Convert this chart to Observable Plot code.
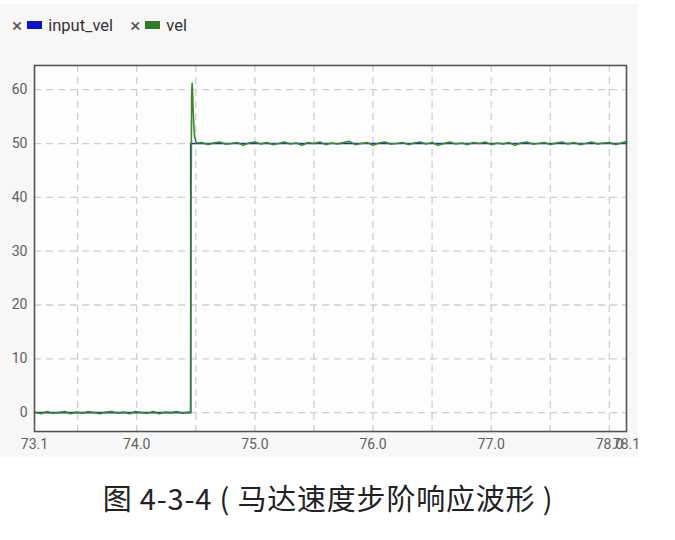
<!DOCTYPE html>
<html>
<head>
<meta charset="utf-8">
<script src="https://cdn.jsdelivr.net/npm/d3@7"></script>
<script src="https://cdn.jsdelivr.net/npm/@observablehq/plot@0.6"></script>
<style>
  html, body { margin: 0; padding: 0; background: #ffffff; width: 675px; height: 540px; overflow: hidden; }
  #panel { position: absolute; left: 0; top: 4px; width: 638px; height: 453px; background: #f7f7f7; }
  #legend { position: absolute; left: 0; top: 14px; height: 22px; font-family: Roboto, "Noto Sans", sans-serif; font-size: 16.5px; color: #333; display: flex; align-items: center; }
  .lx { color: #555; font-size: 19px; margin-right: 5px; }
  .sw { display: inline-block; width: 15px; height: 8px; margin-right: 6px; }
  .li { display: flex; align-items: center; }
  #chart { position: absolute; left: 0; top: 40px; }
  #caption { position: absolute; left: 0; width: 656px; top: 476px; text-align: center; font-family: "Noto Sans CJK SC", sans-serif; font-size: 29px; letter-spacing: 0.8px; color: #222; white-space: pre; }
</style>
</head>
<body>
<div id="panel"></div>
<div id="legend"></div>
<div id="chart"></div>
<div id="caption"></div>
<script>
// ---- data ----
const seriesNames = ["input_vel", "vel"];
const seriesColors = ["#1a35b0", "#3a8a2c"];
const legendColors = ["#0a14cc", "#2f7d2a"];
const captionText = "图 4-3-4 ( 马达速度步阶响应波形 )";

const xDomain = [73.135, 78.145];
const yDomain = [-3.5, 64.5];
const xTicks = [73.135, 74.0, 75.0, 76.0, 77.0, 78.0, 78.145];
const yTicks = [0, 10, 20, 30, 40, 50, 60];
const xGrid = [73.5, 74.0, 74.5, 75.0, 75.5, 76.0, 76.5, 77.0, 77.5, 78.0];
const yGrid = [0, 10, 20, 30, 40, 50, 60];

const inputTime = [73.135, 74.457, 74.457, 78.145];
const inputValue = [0, 0, 50, 50];

const velTime = [
  73.135, 73.19, 73.24, 73.29, 73.34, 73.39, 73.44, 73.49, 73.54, 73.59, 73.64, 73.69, 73.74, 73.79,
  73.84, 73.89, 73.94, 73.99, 74.04, 74.09, 74.14, 74.19, 74.24, 74.29, 74.34, 74.39, 74.44, 74.456,
  74.460, 74.465, 74.469, 74.473, 74.478, 74.484, 74.490, 74.500, 74.510,
  74.55, 74.60, 74.65, 74.70, 74.75, 74.80, 74.85, 74.90, 74.95, 75.00, 75.05, 75.10, 75.15, 75.20,
  75.25, 75.30, 75.35, 75.40, 75.45, 75.50, 75.55, 75.60, 75.65, 75.70, 75.75, 75.80, 75.85, 75.90,
  75.95, 76.00, 76.05, 76.10, 76.15, 76.20, 76.25, 76.30, 76.35, 76.40, 76.45, 76.50, 76.55, 76.60,
  76.65, 76.70, 76.75, 76.80, 76.85, 76.90, 76.95, 77.00, 77.05, 77.10, 77.15, 77.20, 77.25, 77.30,
  77.35, 77.40, 77.45, 77.50, 77.55, 77.60, 77.65, 77.70, 77.75, 77.80, 77.85, 77.90, 77.95, 78.00,
  78.05, 78.10, 78.145
];
const velValue = [
  0.1, -0.2, 0.2, -0.1, 0.0, 0.2, -0.2, 0.1, -0.1, 0.2, 0.0, -0.2, 0.1, 0.2,
  -0.1, 0.1, -0.2, 0.2, 0.0, -0.1, 0.2, -0.2, 0.1, 0.0, 0.2, -0.1, 0.1, 0.0,
  40.0, 59.0, 61.2, 59.5, 56.0, 53.0, 51.3, 50.4, 50.1,
  50.2, 49.8, 50.1, 50.3, 49.9, 50.0, 50.2, 49.7, 50.1, 50.3, 49.9, 50.2, 49.8, 50.0,
  50.3, 49.9, 50.1, 49.7, 50.2, 50.0, 50.3, 49.8, 50.1, 49.9, 50.2, 50.4, 49.8, 50.0,
  50.2, 49.7, 50.1, 50.3, 49.9, 50.0, 50.2, 49.8, 50.1, 50.3, 49.9, 50.2, 49.7, 50.0,
  50.3, 49.9, 50.1, 49.8, 50.2, 50.0, 50.3, 49.8, 50.1, 49.9, 50.2, 49.7, 50.1, 50.3,
  49.9, 50.0, 50.2, 49.8, 50.1, 50.3, 49.9, 50.2, 49.8, 50.0, 50.3, 49.9, 50.1, 50.2,
  49.8, 50.1, 50.4
];

// ---- build tables ----
const inputData = inputTime.map((t, i) => ({t, v: inputValue[i]}));
const velData = velTime.map((t, i) => ({t, v: velValue[i]}));

// ---- legend ----
const legend = document.getElementById("legend");
seriesNames.forEach((name, i) => {
  const item = document.createElement("span");
  item.className = "li";
  item.style.marginLeft = i === 0 ? "12px" : "17px";
  item.innerHTML = `<span class="lx">×</span><span class="sw" style="background:${legendColors[i]}"></span><span>${name}</span>`;
  legend.appendChild(item);
});
document.getElementById("caption").textContent = captionText;

// ---- chart ----
const chart = Plot.plot({
  width: 660,
  height: 420,
  marginLeft: 34,
  marginRight: 34,
  marginTop: 25,
  marginBottom: 29,
  style: { background: "transparent", fontFamily: "Roboto, 'Noto Sans', sans-serif", fontSize: "14px", color: "#5f5f5f" },
  x: { domain: xDomain, label: null },
  y: { domain: yDomain, label: null },
  marks: [
    Plot.frame({ fill: "#fdfdfd", stroke: null }),
    Plot.ruleX(xGrid, { stroke: "#cfcfcf", strokeWidth: 1.3, strokeDasharray: "7,5" }),
    Plot.ruleY(yGrid, { stroke: "#cfcfcf", strokeWidth: 1.3, strokeDasharray: "7,5" }),
    Plot.line(inputData, { x: "t", y: "v", stroke: seriesColors[0], strokeWidth: 1.6 }),
    Plot.line(velData, { x: "t", y: "v", stroke: seriesColors[1], strokeWidth: 1.6 }),
    Plot.frame({ stroke: "#555", strokeWidth: 1.6 }),
    Plot.axisX(xTicks, { tickSize: 0, tickPadding: 8, tickFormat: d => d.toFixed(1), fill: "#5f5f5f", label: null }),
    Plot.axisY(yTicks, { tickSize: 0, tickPadding: 7, fill: "#5f5f5f", label: null })
  ]
});
document.getElementById("chart").appendChild(chart);
</script>
</body>
</html>
